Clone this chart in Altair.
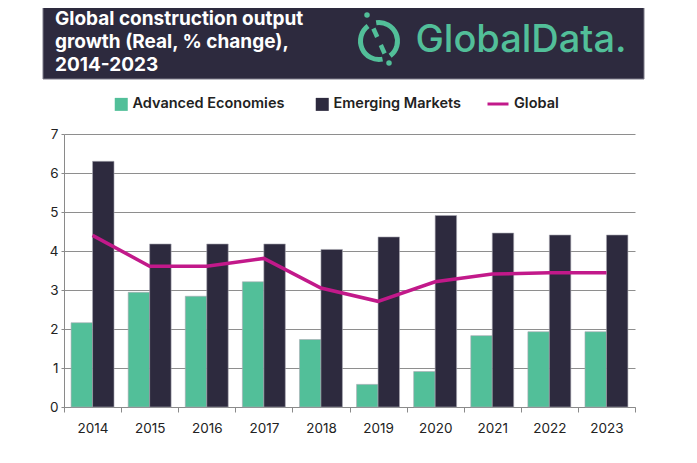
import altair as alt
import pandas as pd

# ---------------- data ----------------
years = ["2014", "2015", "2016", "2017", "2018", "2019", "2020", "2021", "2022", "2023"]
advanced = [2.16, 2.94, 2.84, 3.21, 1.73, 0.58, 0.91, 1.83, 1.93, 1.93]
emerging = [6.30, 4.18, 4.18, 4.18, 4.04, 4.36, 4.91, 4.46, 4.41, 4.41]
global_growth = [4.40, 3.61, 3.61, 3.81, 3.05, 2.71, 3.21, 3.41, 3.44, 3.44]
series_names = ["Advanced Economies", "Emerging Markets", "Global"]
title_lines = ["Global construction output", "growth (Real, % change),", "2014-2023"]
brand = "GlobalData."
y_ticks = [0, 1, 2, 3, 4, 5, 6, 7]

GREEN = "#52bf99"
NAVY = "#2d2a3e"
MAGENTA = "#c2198a"
TEXT = "#222222"
GRID = "#8e8e8e"

bars_df = pd.DataFrame({
    "year": years * 2,
    "series": [series_names[0]] * len(years) + [series_names[1]] * len(years),
    "value": advanced + emerging,
})
line_df = pd.DataFrame({"year": years, "value": global_growth, "line_series": series_names[2]})
one = pd.DataFrame({"k": [0]})

W, H = 571, 273

x_enc = alt.X(
    "year:N", sort=years,
    scale=alt.Scale(paddingInner=0, paddingOuter=0),
    axis=alt.Axis(title=None, labelAngle=0, labelFont="Inter", labelFontSize=13.5,
                  labelColor=TEXT, tickBand="extent", tickSize=5, tickColor="#8a8a8a",
                  domainColor="#8a8a8a", labelPadding=9, grid=False),
)
y_enc = alt.Y(
    "value:Q",
    scale=alt.Scale(domain=[0, 7], nice=False, zero=True),
    axis=alt.Axis(title=None, values=y_ticks, format="d", labelFont="Inter", labelFontSize=13.5,
                  labelColor=TEXT, tickSize=3, tickColor="#8a8a8a", domainColor="#8a8a8a",
                  labelPadding=3, grid=True, gridColor=GRID, gridWidth=1),
)

legend_common = dict(
    orient="none", direction="horizontal", title=None,
    labelFont="Inter", labelFontSize=14.5, labelFontWeight=600,
    labelColor=TEXT, labelOffset=4, padding=0,
)

bars = alt.Chart(bars_df).mark_bar(stroke="#a9a8b2", strokeWidth=0.6).encode(
    x=x_enc,
    xOffset=alt.XOffset("series:N", sort=series_names[:2],
                        scale=alt.Scale(paddingInner=0, paddingOuter=0.33)),
    y=y_enc,
    color=alt.Color(
        "series:N",
        scale=alt.Scale(domain=series_names[:2], range=[GREEN, NAVY]),
        legend=alt.Legend(legendX=50, legendY=-37, symbolType="square", symbolSize=169,
                          symbolStrokeWidth=0, columnPadding=30, **legend_common),
    ),
)

line = alt.Chart(line_df).mark_line(strokeWidth=3.5).encode(
    x=x_enc,
    y=y_enc,
    stroke=alt.Stroke(
        "line_series:N",
        scale=alt.Scale(domain=[series_names[2]], range=[MAGENTA]),
        legend=alt.Legend(legendX=422, legendY=-42, symbolType="stroke", symbolSize=441,
                          symbolStrokeWidth=3, **legend_common),
    ),
)

# ---------------- header decoration ----------------
header = alt.Chart(one).mark_rect(color=NAVY, stroke="#7d7b88", strokeWidth=1).encode(
    x=alt.value(-21), x2=alt.value(580), y=alt.value(-130), y2=alt.value(-55)
)
title = alt.Chart(one).mark_text(
    text=title_lines, font="Inter", fontSize=19, fontWeight=700, color="white",
    align="left", baseline="alphabetic", lineHeight=23,
).encode(x=alt.value(-9), y=alt.value(-109))

logo_text = alt.Chart(one).mark_text(
    text=brand, font="Inter", fontSize=38, fontWeight=500, color=GREEN,
    align="center", baseline="alphabetic",
).encode(x=alt.value(457), y=alt.value(-82))

arc_left = alt.Chart(one).mark_arc(
    color=GREEN, radius=21, radius2=16, theta=2.95, theta2=5.65
).encode(x=alt.value(315), y=alt.value(-93))
arc_right = alt.Chart(one).mark_arc(
    color=GREEN, radius=21, radius2=16, theta=6.13, theta2=8.78
).encode(x=alt.value(315), y=alt.value(-93))
slash_top = alt.Chart(one).mark_rule(color=GREEN, strokeWidth=4.5).encode(
    x=alt.value(309.4), y=alt.value(-105.5), x2=alt.value(313.2), y2=alt.value(-97)
)
slash_bottom = alt.Chart(one).mark_rule(color=GREEN, strokeWidth=4.5).encode(
    x=alt.value(316.8), y=alt.value(-89), x2=alt.value(320.6), y2=alt.value(-80.5)
)
dot_top = alt.Chart(one).mark_circle(color=GREEN, size=30, opacity=1).encode(
    x=alt.value(303), y=alt.value(-119)
)
dot_bottom = alt.Chart(one).mark_circle(color=GREEN, size=30, opacity=1).encode(
    x=alt.value(325), y=alt.value(-71)
)

chart = alt.layer(
    header, title, logo_text, arc_left, arc_right, slash_top, slash_bottom, dot_top, dot_bottom,
    bars, line,
).resolve_scale(color="independent", stroke="independent").properties(
    width=W, height=H,
    autosize=alt.AutoSizeParams(type="none"),
    padding={"left": 56, "top": 126, "right": 54, "bottom": 48},
    background="white",
).configure_view(stroke="transparent")

chart.save("out.html", embed_options={"renderer": "svg", "actions": False})
